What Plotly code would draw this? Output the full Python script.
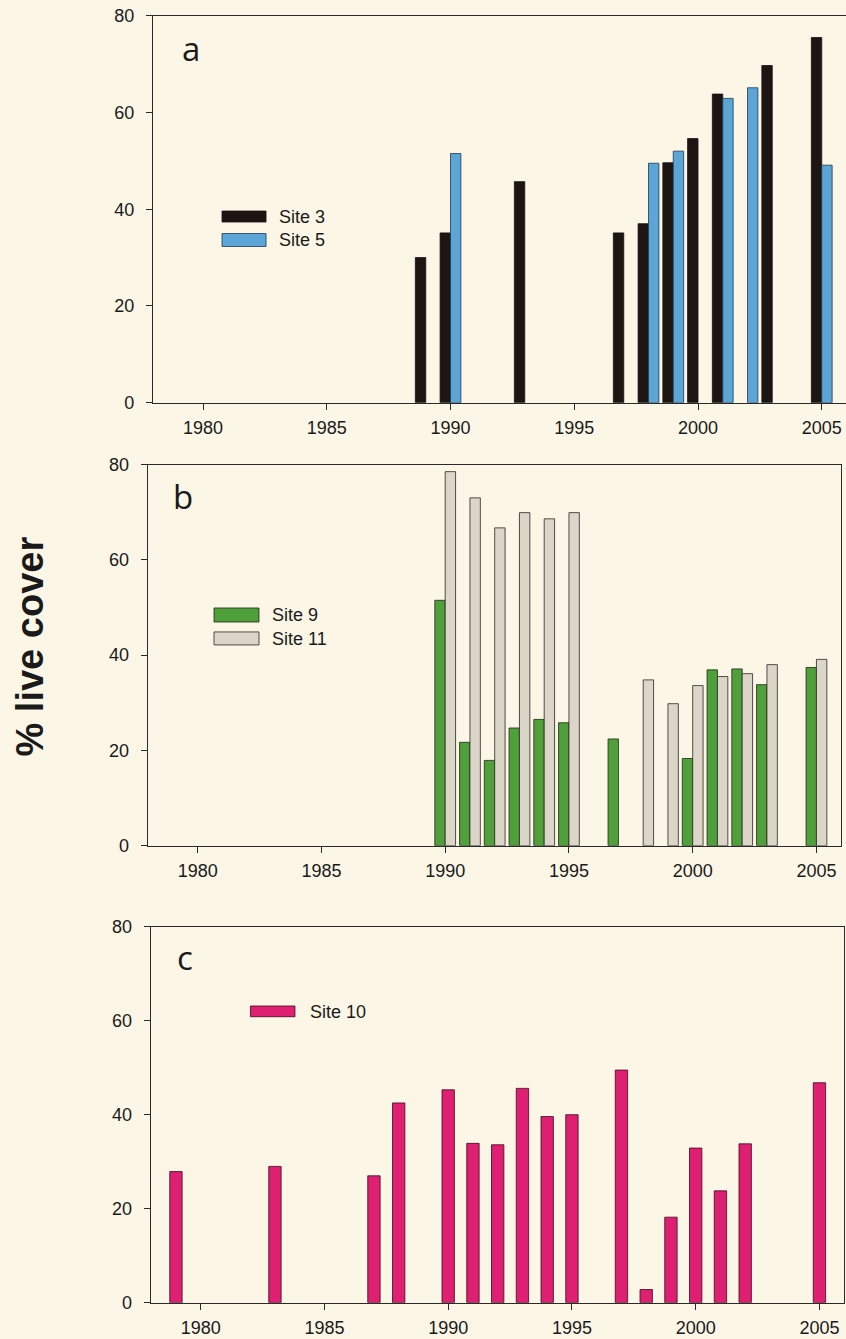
import plotly.graph_objects as go

# ---------------- data ----------------
site3_years = [1989, 1990, 1993, 1997, 1998, 1999, 2000, 2001, 2003, 2005]
site3_cover = [30.0, 35.1, 45.7, 35.1, 37.0, 49.6, 54.6, 63.8, 69.7, 75.5]
site5_years = [1990, 1998, 1999, 2001, 2002, 2005]
site5_cover = [51.5, 49.5, 52.0, 62.9, 65.1, 49.1]

site9_years = [1990, 1991, 1992, 1993, 1994, 1995, 1997, 2000, 2001, 2002, 2003, 2005]
site9_cover = [51.5, 21.7, 17.9, 24.7, 26.5, 25.8, 22.4, 18.3, 36.9, 37.1, 33.8, 37.4]
site11_years = [1990, 1991, 1992, 1993, 1994, 1995, 1998, 1999, 2000, 2001, 2002, 2003, 2005]
site11_cover = [78.5, 73.0, 66.7, 69.9, 68.6, 69.9, 34.8, 29.8, 33.6, 35.5, 36.1, 38.0, 39.1]

site10_years = [1979, 1983, 1987, 1988, 1990, 1991, 1992, 1993, 1994, 1995, 1997, 1998,
                1999, 2000, 2001, 2002, 2005]
site10_cover = [27.9, 29.0, 27.0, 42.5, 45.3, 33.9, 33.6, 45.6, 39.6, 40.0, 49.5, 2.8,
                18.2, 32.9, 23.8, 33.8, 46.8]

x_ticks = [1980, 1985, 1990, 1995, 2000, 2005]
y_ticks = [0, 20, 40, 60, 80]
panel_letters = ["a", "b", "c"]
y_title = "% live cover"

# ---------------- style ----------------
BG = "#FBF6E6"
AX = "#2a2a2a"
C_SITE3 = "#1d1512"
C_SITE5 = "#5ba6d6"
C_SITE9 = "#4f9f3a"
C_SITE11 = "#dcd6c9"
C_SITE10 = "#de1f72"
FONT = "Liberation Sans, Arial, sans-serif"

W, H = 846, 1339

fig = go.Figure()

# panel a
fig.add_trace(go.Bar(x=site3_years, y=site3_cover, name="Site 3", width=0.42, offset=-0.42,
                     marker=dict(color=C_SITE3, line=dict(color="#111111", width=0.8)),
                     xaxis="x", yaxis="y", showlegend=False))
fig.add_trace(go.Bar(x=site5_years, y=site5_cover, name="Site 5", width=0.42, offset=0.0,
                     marker=dict(color=C_SITE5, line=dict(color="#1f3550", width=0.8)),
                     xaxis="x", yaxis="y", showlegend=False))
# panel b
fig.add_trace(go.Bar(x=site9_years, y=site9_cover, name="Site 9", width=0.42, offset=-0.42,
                     marker=dict(color=C_SITE9, line=dict(color="#1c2a14", width=0.8)),
                     xaxis="x2", yaxis="y2", showlegend=False))
fig.add_trace(go.Bar(x=site11_years, y=site11_cover, name="Site 11", width=0.42, offset=0.0,
                     marker=dict(color=C_SITE11, line=dict(color="#2a2622", width=0.8)),
                     xaxis="x2", yaxis="y2", showlegend=False))
# panel c
fig.add_trace(go.Bar(x=site10_years, y=site10_cover, name="Site 10", width=0.5,
                     marker=dict(color=C_SITE10, line=dict(color="#3a0a1c", width=0.8)),
                     xaxis="x3", yaxis="y3", showlegend=False))

x_range = [1977.98, 2005.98]

def xaxis(domain, anchor):
    return dict(domain=domain, anchor=anchor, range=x_range, tickvals=x_ticks,
                ticks="outside", ticklen=6, tickwidth=1, tickcolor=AX,
                showline=True, linecolor=AX, linewidth=1.3, mirror=True,
                showgrid=False, zeroline=False, ticklabelstandoff=3, automargin=False,
                tickfont=dict(family=FONT, size=18, color="#1a1a1a"))

def yaxis(domain, anchor, mirror=True):
    return dict(domain=domain, anchor=anchor, range=[0, 80], tickvals=y_ticks,
                ticks="outside", ticklen=6, tickwidth=1, tickcolor=AX,
                showline=True, linecolor=AX, linewidth=1.3, mirror=mirror,
                showgrid=False, zeroline=False, ticklabelstandoff=8, automargin=False,
                tickfont=dict(family=FONT, size=18, color="#1a1a1a"))

dom_x = {"a": [153 / W, 846 / W], "b": [147.7 / W, 840.7 / W], "c": [150.7 / W, 843.7 / W]}
dom_y = {"a": [(H - 402.7) / H, (H - 15.7) / H],
         "b": [(H - 845.7) / H, (H - 464.5) / H],
         "c": [(H - 1302.7) / H, (H - 926.7) / H]}

fig.update_layout(
    width=W, height=H, margin=dict(l=0, r=0, t=0, b=0, autoexpand=False),
    paper_bgcolor=BG, plot_bgcolor=BG, barmode="overlay",
    xaxis=xaxis(dom_x["a"], "y"), yaxis=yaxis(dom_y["a"], "x", mirror=False),
    xaxis2=xaxis(dom_x["b"], "y2"), yaxis2=yaxis(dom_y["b"], "x2"),
    xaxis3=xaxis(dom_x["c"], "y3"), yaxis3=yaxis(dom_y["c"], "x3"),
    showlegend=False,
)

# manual legends (wide swatches as in the original)
legend_items = [
    # (xref, yref, name, color, line, swatch x0,x1, y0,y1, text x, text y)
    ("x", "y", "Site 3", C_SITE3, "#111111", 0.0996, 0.1631, 0.4669, 0.4953, 0.179, 0.4811),
    ("x", "y", "Site 5", C_SITE5, "#1f3550", 0.0996, 0.1631, 0.4036, 0.4372, 0.179, 0.4204),
    ("x2", "y2", "Site 9", C_SITE9, "#1c2a14", 0.0957, 0.1606, 0.5868, 0.6236, 0.1765, 0.6052),
    ("x2", "y2", "Site 11", C_SITE11, "#2a2622", 0.0957, 0.1606, 0.5267, 0.5608, 0.1765, 0.5435),
    ("x3", "y3", "Site 10", C_SITE10, "#3a0a1c", 0.1439, 0.2082, 0.7606, 0.7891, 0.2274, 0.7739),
]
for xr, yr, name, col, lcol, x0, x1, y0, y1, tx, ty in legend_items:
    fig.add_shape(type="rect", xref=f"{xr} domain", yref=f"{yr} domain",
                  x0=x0, x1=x1, y0=y0, y1=y1, fillcolor=col,
                  line=dict(color=lcol, width=0.8), layer="above")
    fig.add_annotation(xref=f"{xr} domain", yref=f"{yr} domain", x=tx, y=ty,
                       text=name, showarrow=False, xanchor="left", yanchor="middle",
                       font=dict(family=FONT, size=18, color="#1a1a1a"))

# panel letters
letter_pos = [("x", "y", 0.0548, 0.915), ("x2", "y2", 0.0509, 0.915), ("x3", "y3", 0.0495, 0.918)]
for letter, (xr, yr, lx, ly) in zip(panel_letters, letter_pos):
    fig.add_annotation(xref=f"{xr} domain", yref=f"{yr} domain", x=lx, y=ly, text=letter,
                       showarrow=False, xanchor="center", yanchor="middle",
                       font=dict(family="Open Sans, Noto Sans, sans-serif", size=33, color="#1a1a1a"))

# y axis title shared by the three panels
fig.add_annotation(xref="paper", yref="paper", x=30 / W, y=(H - 646.5) / H, text=f"<b>{y_title}</b>",
                   textangle=-90, showarrow=False, xanchor="center", yanchor="middle",
                   font=dict(family=FONT, size=38, color="#1a1a1a"))

fig.write_html("out.html", config={"displayModeBar": False},
               post_script="document.body.style.margin='0px';document.body.style.overflow='hidden';")
